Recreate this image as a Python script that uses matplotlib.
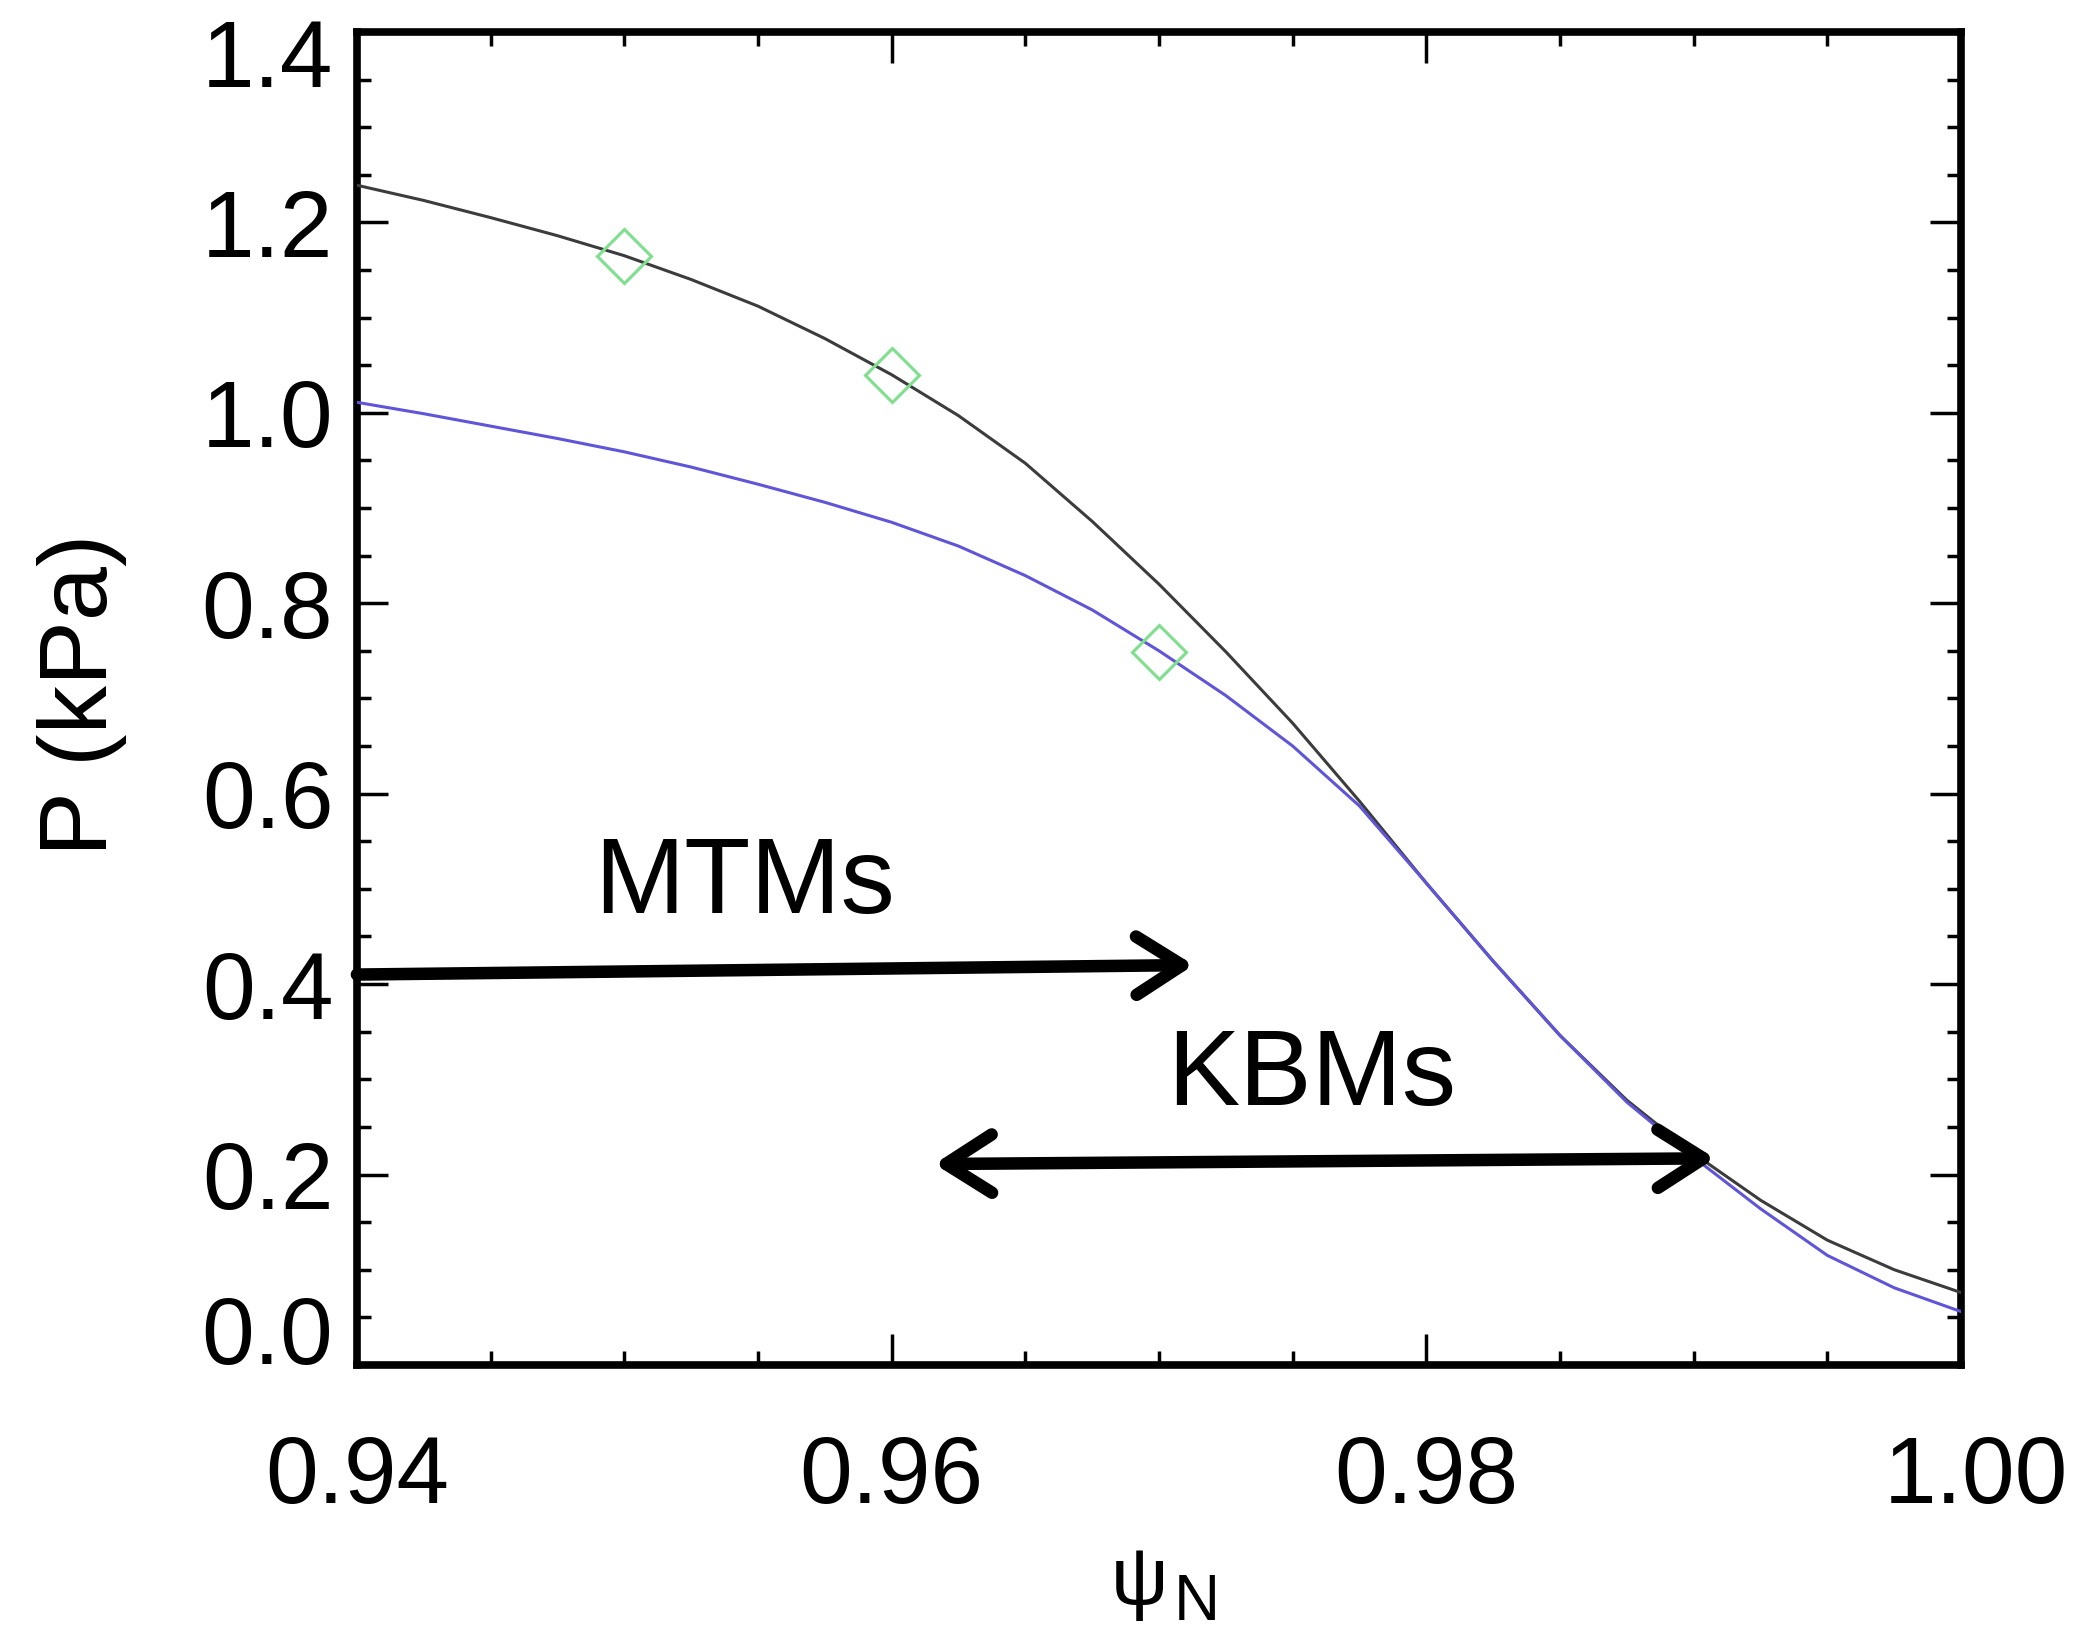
import matplotlib
matplotlib.use("Agg")
import matplotlib.pyplot as plt
from matplotlib.ticker import FixedLocator, MultipleLocator
from matplotlib.transforms import ScaledTranslation

# Normalised poloidal flux grid
psi_n = [0.940, 0.9425, 0.945, 0.9475, 0.950, 0.9525, 0.955, 0.9575, 0.960,
         0.9625, 0.965, 0.9675, 0.970, 0.9725, 0.975, 0.9775, 0.980, 0.9825,
         0.985, 0.9875, 0.990, 0.9925, 0.995, 0.9975, 1.000]

# Total pressure profile (kPa)
p_total = [1.239, 1.223, 1.205, 1.186, 1.165, 1.140, 1.112, 1.078, 1.040,
           0.997, 0.947, 0.886, 0.820, 0.749, 0.674, 0.592, 0.506, 0.424,
           0.346, 0.278, 0.222, 0.173, 0.131, 0.100, 0.076]

# Modified pressure profile (kPa)
p_mod = [1.011, 0.999, 0.986, 0.973, 0.959, 0.943, 0.925, 0.906, 0.885,
         0.860, 0.829, 0.793, 0.750, 0.703, 0.650, 0.587, 0.506, 0.424,
         0.346, 0.276, 0.218, 0.164, 0.115, 0.081, 0.056]

# Selected surfaces
psi_sel = [0.950, 0.960, 0.970]
p_sel = [1.165, 1.040, 0.749]

# Mode regions
mtm_psi = [0.940, 0.9713]
mtm_p = [0.410, 0.420]
kbm_psi = [0.9616, 0.9908]
kbm_p = [0.211, 0.217]

x_ticks = [0.94, 0.96, 0.98, 1.00]
x_tick_labels = ["0.94", "0.96", "0.98", "1.00"]
y_ticks = [0.0, 0.2, 0.4, 0.6, 0.8, 1.0, 1.2, 1.4]
y_tick_labels = ["0.0", "0.2", "0.4", "0.6", "0.8", "1.0", "1.2", "1.4"]

plt.rcParams["font.family"] = ["Liberation Sans", "DejaVu Sans"]

fig = plt.figure(figsize=(20.75, 16.37), dpi=100)
ax = fig.add_axes([0.1720, 0.1662, 0.7731, 0.8143])

ax.plot(psi_n, p_total, color="#3c3c3c", lw=2.2, zorder=3,
        solid_joinstyle="round")
ax.plot(psi_n, p_mod, color="#5f55d9", lw=2.2, zorder=3,
        solid_joinstyle="round")
ax.plot(psi_sel, p_sel, ls="none", marker="D", ms=27, mfc="none",
        mec="#7ee08c", mew=2.2, zorder=4)

arrow_kw = dict(lw=9, color="black", shrinkA=0, shrinkB=0,
                mutation_scale=100, capstyle="round", joinstyle="round")
ax.annotate("", xy=(mtm_psi[1], mtm_p[1]), xytext=(mtm_psi[0], mtm_p[0]),
            arrowprops=dict(arrowstyle="->,head_length=0.33,head_width=0.21",
                            **arrow_kw), annotation_clip=False, zorder=5)
ax.annotate("", xy=(kbm_psi[1], kbm_p[1]), xytext=(kbm_psi[0], kbm_p[0]),
            arrowprops=dict(arrowstyle="<->,head_length=0.33,head_width=0.21",
                            **arrow_kw), annotation_clip=False, zorder=5)

ax.text(0.9545, 0.4745, "MTMs", ha="center", va="baseline", fontsize=78)
ax.text(0.9757, 0.273, "KBMs", ha="center", va="baseline", fontsize=78)

ax.set_xlim(0.94, 1.00)
ax.set_ylim(0.0, 1.4)
ax.xaxis.set_major_locator(FixedLocator(x_ticks))
ax.set_xticklabels(x_tick_labels)
ax.yaxis.set_major_locator(FixedLocator(y_ticks))
ax.set_yticklabels(y_tick_labels)
ax.xaxis.set_minor_locator(MultipleLocator(0.005))
ax.yaxis.set_minor_locator(MultipleLocator(0.05))

ax.tick_params(which="both", direction="in", top=True, right=True,
               width=2.5, color="black")
ax.tick_params(which="major", length=22, labelsize=68)
ax.tick_params(which="minor", length=10)
ax.tick_params(axis="x", which="major", pad=50)
ax.tick_params(axis="y", which="major", pad=17)
for sp in ax.spines.values():
    sp.set_linewidth(5.5)

# keep the end labels of the pressure axis inside the frame
yt = ax.yaxis.get_major_ticks()
yt[0].label1.set_transform(yt[0].label1.get_transform()
                           + ScaledTranslation(0, 0.35, fig.dpi_scale_trans))
yt[-1].label1.set_transform(yt[-1].label1.get_transform()
                            + ScaledTranslation(0, -0.21, fig.dpi_scale_trans))
xt = ax.xaxis.get_major_ticks()
xt[-1].label1.set_transform(xt[-1].label1.get_transform()
                            + ScaledTranslation(0.15, 0, fig.dpi_scale_trans))

fig.text(0.0395, 0.5754, "P (kPa)", rotation=90, ha="center", va="center",
         fontsize=70)
fig.text(0.5489, 0.0200, "\u03c8", ha="center", va="baseline", fontsize=58)
fig.text(0.5769, 0.0105, "N", ha="center", va="baseline", fontsize=46)

fig.savefig("out.png", dpi=100, facecolor="white")
